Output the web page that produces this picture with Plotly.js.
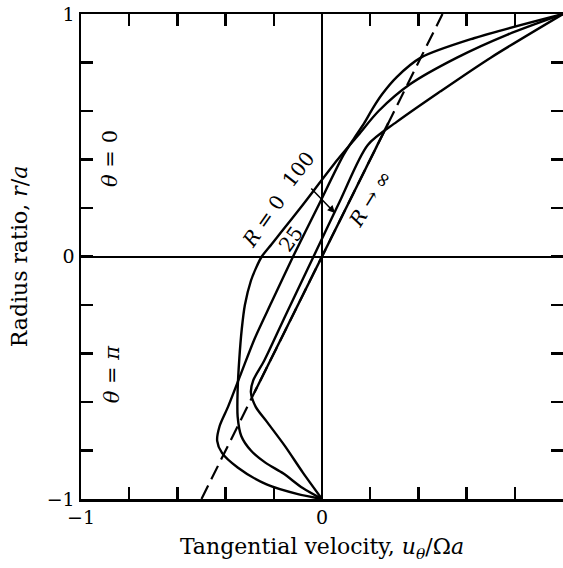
<!DOCTYPE html>
<html><head><meta charset="utf-8">
<script src="https://cdn.plot.ly/plotly-3.0.1.min.js"></script>
<style>html,body{margin:0;padding:0;background:#fff}#chart{width:563px;height:568px}</style>
</head><body><div id="chart"></div>
<script>
// R = 0 curve (x = u_theta/Omega a, y = r/a)
const xR0 = [0, -0.08, -0.16, -0.235, -0.295, -0.335, -0.35, -0.35, -0.343, -0.333, -0.32, -0.295, -0.275, -0.25, -0.21, -0.17, -0.09, 0.065, 0.15, 0.235, 0.365, 0.56, 0.77, 1];
const yR0 = [-1, -0.955, -0.895, -0.85, -0.80, -0.74, -0.66, -0.55, -0.42, -0.30, -0.2, -0.1, -0.05, 0, 0.05, 0.1, 0.2, 0.4, 0.5, 0.6, 0.71, 0.82, 0.915, 1];
// R = 25 curve
const xR25 = [0, -0.10, -0.23, -0.35, -0.415, -0.435, -0.425, -0.39, -0.335, -0.28, -0.21, -0.12, -0.02, 0.09, 0.135, 0.175, 0.21, 0.25, 0.31, 0.41, 0.63, 1];
const yR25 = [-1, -0.98, -0.94, -0.87, -0.81, -0.76, -0.70, -0.62, -0.48, -0.34, -0.19, 0, 0.2, 0.42, 0.49, 0.55, 0.61, 0.67, 0.74, 0.82, 0.90, 1];
// R = 100 curve
const xR100 = [0, -0.08, -0.155, -0.23, -0.275, -0.295, -0.285, -0.24, -0.15, -0.035, 0.075, 0.19, 0.31, 0.49, 0.70, 1];
const yR100 = [-1, -0.89, -0.78, -0.68, -0.62, -0.56, -0.51, -0.43, -0.24, 0, 0.23, 0.46, 0.555, 0.68, 0.82, 1];
// R -> infinity core line (dashed extension and solid core)
const xInfDash = [-0.5, 0.5];
const yInfDash = [-1, 1];
const xInfCore = [-0.28, 0.275];
const yInfCore = [-0.56, 0.55];
// ticks
const tickVals = [-1, -0.8, -0.6, -0.4, -0.2, 0, 0.2, 0.4, 0.6, 0.8, 1];
const xTickText = ['\u22121', ' ', ' ', ' ', ' ', '0', ' ', ' ', ' ', ' ', ' '];
const yTickText = ['\u22121', ' ', ' ', ' ', ' ', '0', ' ', ' ', ' ', ' ', '1'];

const serif = 'DejaVu Serif, Liberation Serif, serif';
const ln = {color: '#000', width: 2.4, shape: 'spline', smoothing: 0.8};
const traces = [
  {x: xInfDash, y: yInfDash, mode: 'lines', line: {color: '#000', width: 2.2, dash: '15px,7px'}, name: 'R→∞ (dashed)'},
  {x: xInfCore, y: yInfCore, mode: 'lines', line: {color: '#000', width: 2.4}, name: 'R→∞'},
  {x: xR0, y: yR0, mode: 'lines', line: ln, name: 'R=0'},
  {x: xR25, y: yR25, mode: 'lines', line: ln, name: 'R=25'},
  {x: xR100, y: yR100, mode: 'lines', line: ln, name: 'R=100'}
];
const axisCommon = {
  range: [-1, 1], tickmode: 'array', tickvals: tickVals,
  ticks: 'inside', ticklen: 12, tickwidth: 2.5, tickcolor: '#000',
  showline: true, linecolor: '#000', linewidth: 2.5, mirror: 'ticks',
  showgrid: false, zeroline: true, zerolinecolor: '#000', zerolinewidth: 2,
  tickfont: {family: serif, size: 19, color: '#000'}
};
const ann = (x, y, text, angle, size) => ({x, y, xref: 'x', yref: 'y', text, textangle: angle, showarrow: false,
  font: {family: serif, size: size || 20, color: '#000'}});
const layout = {
  width: 563, height: 568,
  margin: {l: 81, r: 0, t: 14, b: 69},
  paper_bgcolor: '#fff', plot_bgcolor: '#fff',
  showlegend: false,
  xaxis: Object.assign({}, axisCommon, {ticktext: xTickText,
    title: {text: 'Tangential velocity, <i>u</i><sub><i>θ</i></sub>/Ω<i>a</i>', font: {family: serif, size: 22, color: '#000'}, standoff: 12}}),
  yaxis: Object.assign({}, axisCommon, {ticktext: yTickText,
    title: {text: 'Radius ratio, <i>r</i>/<i>a</i>', font: {family: serif, size: 22, color: '#000'}, standoff: 13}}),
  annotations: [
    ann(-0.243, 0.148, '<i>R</i> = 0', -55),
    ann(-0.13, 0.073, '25', -54),
    ann(-0.098, 0.362, '100', -52),
    ann(0.199, 0.238, '<i>R</i> → ∞', -58),
    ann(-0.882, 0.404, '<i>θ</i> = 0', -90, 21),
    ann(-0.874, -0.484, '<i>θ</i> = <i>π</i>', -90, 21),
    {x: 0.054, y: 0.179, ax: -0.057, ay: 0.293, xref: 'x', yref: 'y', axref: 'x', ayref: 'y', text: ' ',
     showarrow: true, arrowhead: 2, arrowsize: 1, arrowwidth: 1.5, arrowcolor: '#000', standoff: 0, startstandoff: 0}
  ]
};
Plotly.newPlot('chart', traces, layout, {staticPlot: true, displayModeBar: false});
</script></body></html>
